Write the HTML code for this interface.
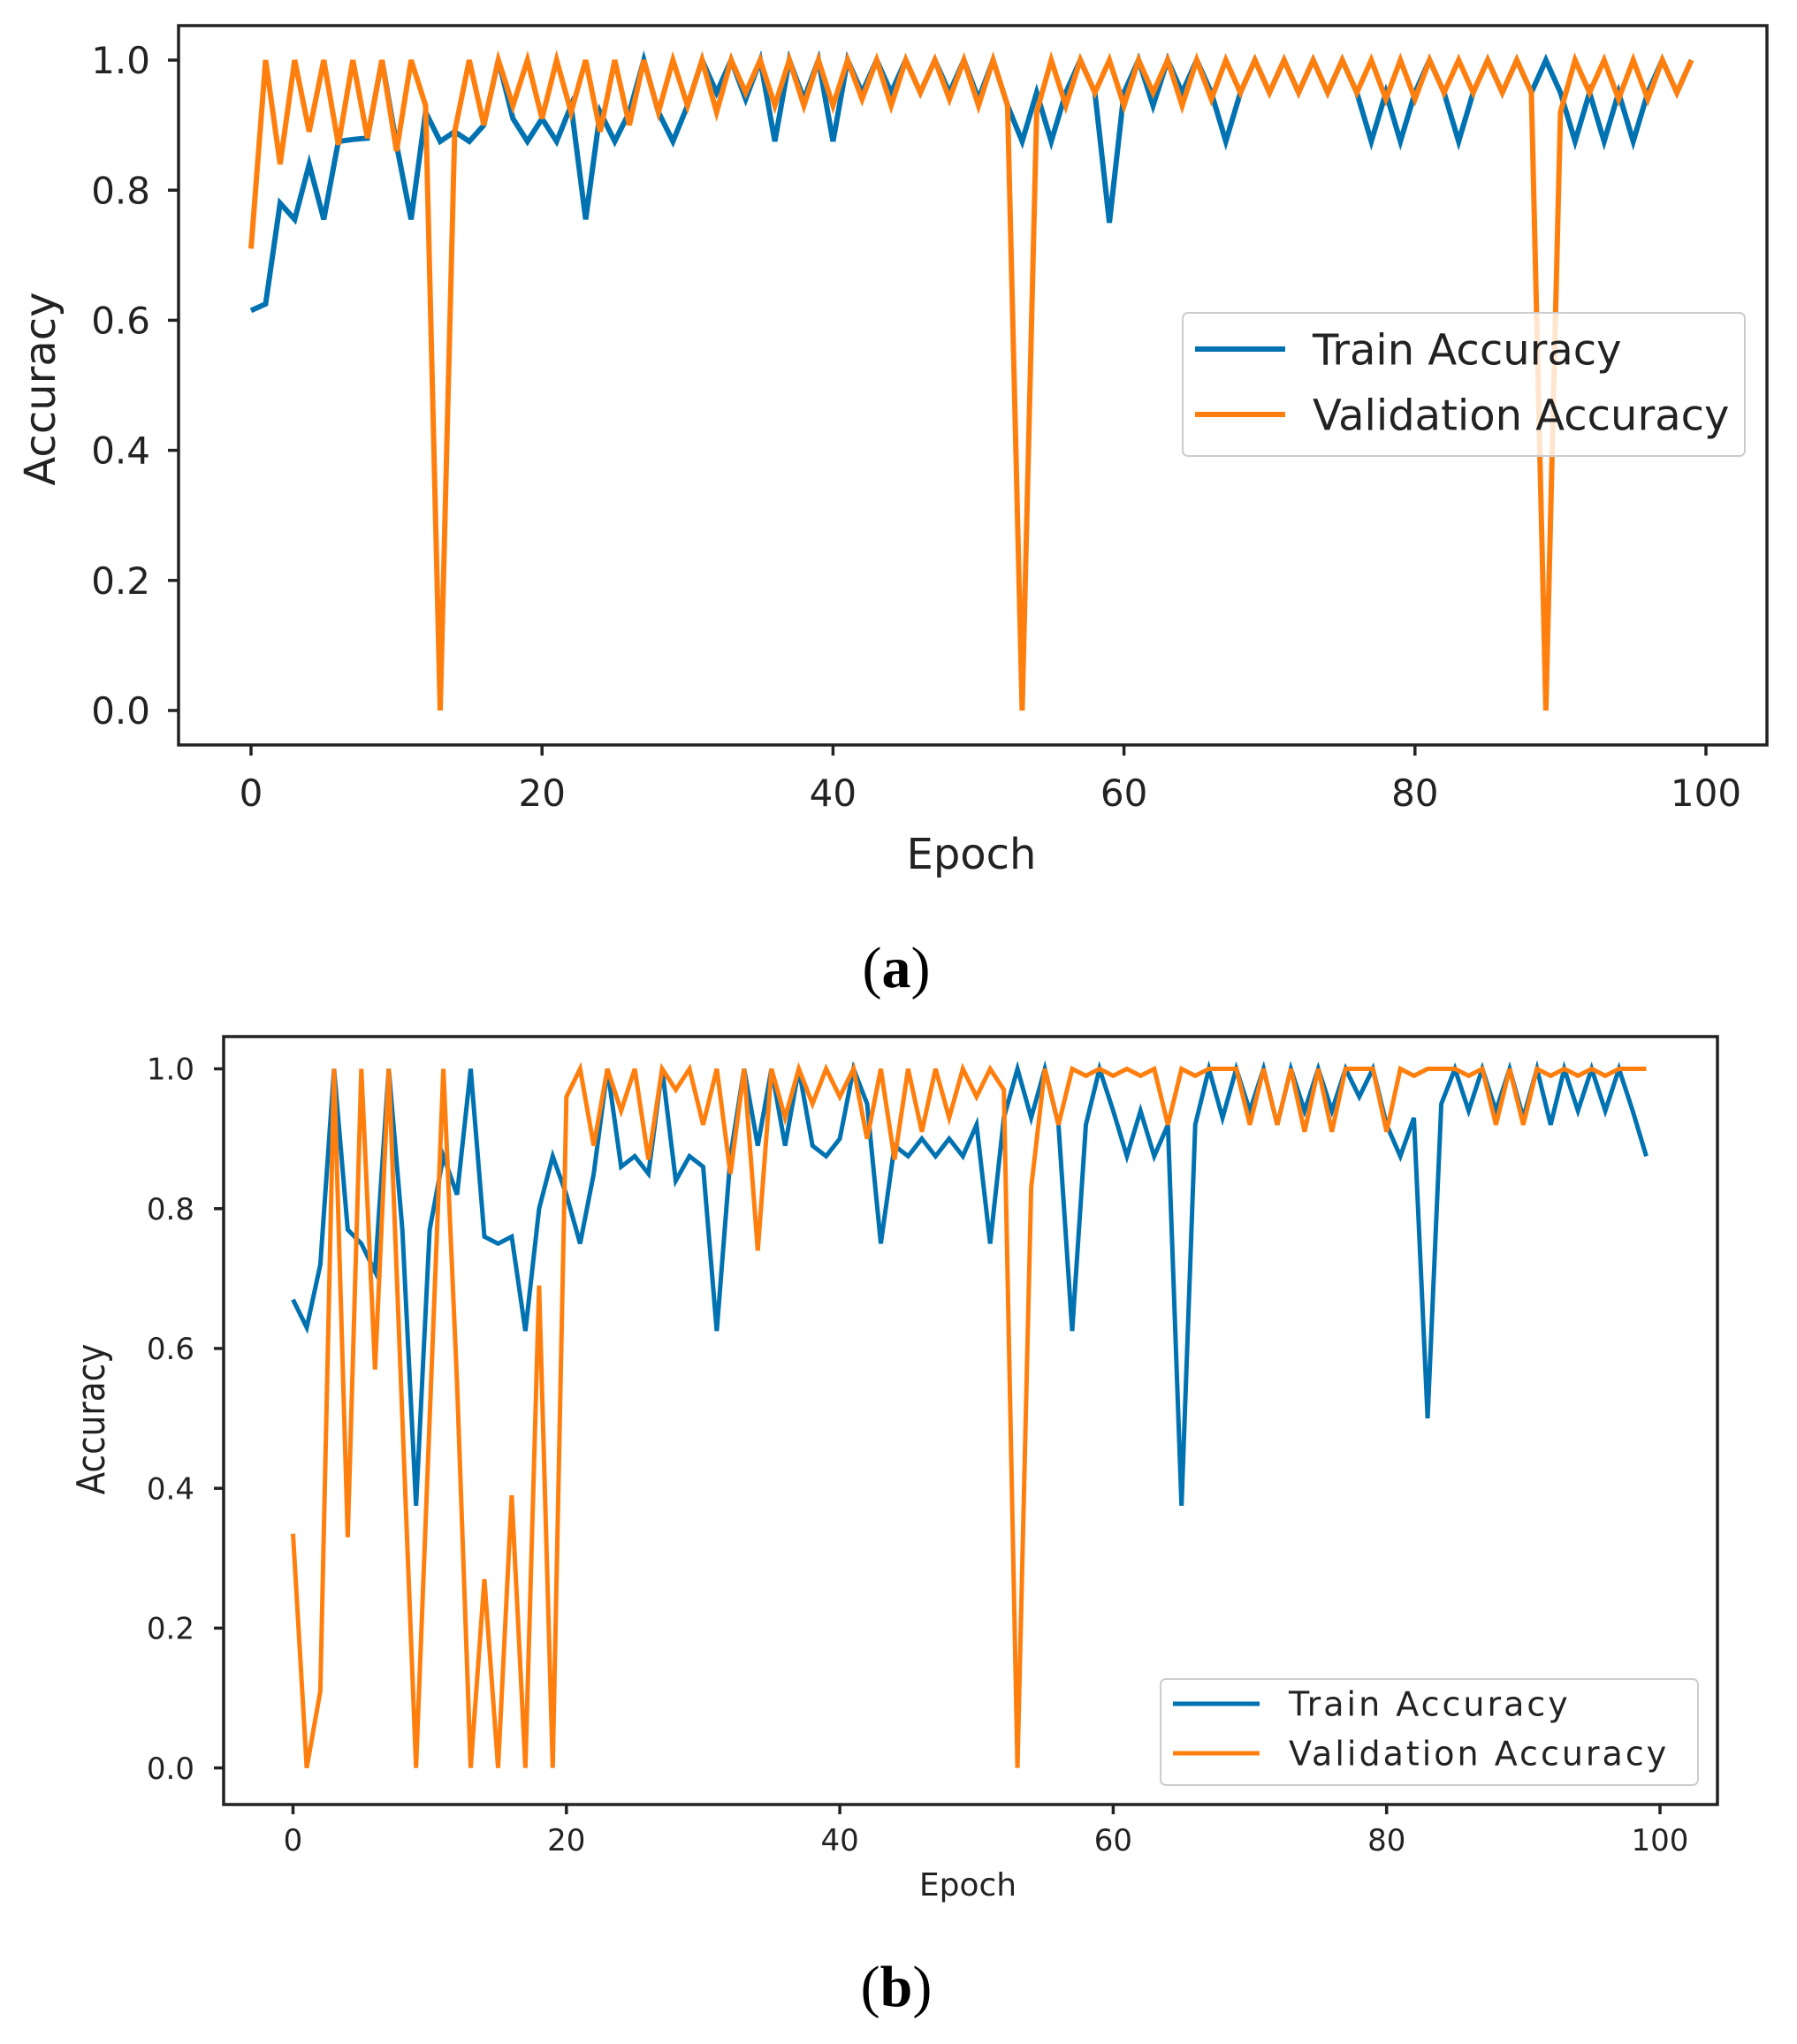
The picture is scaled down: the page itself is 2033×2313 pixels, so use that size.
<!DOCTYPE html>
<html><head><meta charset="utf-8"><style>
html,body{margin:0;padding:0;background:#fff;}
svg{display:block;}
</style></head><body>
<svg id="root" width="2033" height="2313" viewBox="0 0 2033 2313" xmlns="http://www.w3.org/2000/svg"></svg>
<script>
const epochs = Array.from({length:100},(_,i)=>i);
const trainA = [.615,.625,.78,.755,.84,.755,.875,.878,.88,1.0,.87,.755,.92,.875,.89,.875,.9,1.0,.91,.875,.91,.875,.93,.755,.92,.875,.92,1.0,.92,.875,.93,1.0,.95,1.0,.94,1.0,.875,1.0,.94,1.0,.875,1.0,.95,1.0,.95,1.0,.95,1.0,.95,1.0,.94,1.0,.93,.875,.95,.875,.95,1.0,.95,.75,.95,1.0,.93,1.0,.95,1.0,.95,.875,.95,1.0,.95,1.0,.95,1.0,.95,1.0,.95,.875,.95,.875,.95,1.0,.95,.875,.95,1.0,.95,1.0,.95,1.0,.95,.875,.95,.875,.95,.875,.95,1.0,.95,1.0];
const valA = [.71,1.0,.84,1.0,.89,1.0,.87,1.0,.88,1.0,.86,1.0,.93,0,.89,1.0,.9,1.0,.93,1.0,.91,1.0,.92,1.0,.89,1.0,.9,1.0,.92,1.0,.93,1.0,.92,1.0,.95,1.0,.93,1.0,.93,1.0,.93,1.0,.94,1.0,.93,1.0,.95,1.0,.94,1.0,.93,1.0,.93,0,.92,1.0,.93,1.0,.95,1.0,.93,1.0,.95,1.0,.93,1.0,.94,1.0,.95,1.0,.95,1.0,.95,1.0,.95,1.0,.95,1.0,.94,1.0,.94,1.0,.95,1.0,.95,1.0,.95,1.0,.95,0,.92,1.0,.95,1.0,.94,1.0,.94,1.0,.95,1.0];
const trainB = [.67,.63,.72,1.0,.77,.75,.71,1.0,.77,.375,.77,.875,.82,1.0,.76,.75,.76,.625,.8,.875,.82,.75,.85,1.0,.86,.875,.85,1.0,.84,.875,.86,.625,.875,1.0,.89,1.0,.89,1.0,.89,.875,.9,1.0,.95,.75,.89,.875,.9,.875,.9,.875,.92,.75,.93,1.0,.93,1.0,.92,.625,.92,1.0,.94,.875,.94,.875,.92,.375,.92,1.0,.93,1.0,.94,1.0,.92,1.0,.94,1.0,.94,1.0,.96,1.0,.92,.875,.93,.5,.95,1.0,.94,1.0,.94,1.0,.93,1.0,.92,1.0,.94,1.0,.94,1.0,.94,.875];
const valB = [.335,0,.11,1.0,.33,1.0,.57,1.0,.5,0,.5,1.0,.55,0,.27,0,.39,0,.69,0,.96,1.0,.89,1.0,.94,1.0,.87,1.0,.97,1.0,.92,1.0,.85,1.0,.74,1.0,.93,1.0,.95,1.0,.96,1.0,.9,1.0,.87,1.0,.91,1.0,.93,1.0,.96,1.0,.97,0,.83,1.0,.92,1.0,.99,1.0,.99,1.0,.99,1.0,.92,1.0,.99,1.0,1.0,1.0,.92,1.0,.92,1.0,.91,1.0,.91,1.0,1.0,1.0,.91,1.0,.99,1.0,1.0,1.0,.99,1.0,.92,1.0,.92,1.0,.99,1.0,.99,1.0,.99,1.0,1.0,1.0];
const xTicks = [0,20,40,60,80,100];
const yTicks = [0,0.2,0.4,0.6,0.8,1.0];
const seriesNames = ["Train Accuracy","Validation Accuracy"];

const NS="http://www.w3.org/2000/svg";
const root=document.getElementById('root');
function mk(tag,attrs,parent){const e=document.createElementNS(NS,tag);for(const k in attrs)e.setAttribute(k,attrs[k]);(parent||root).appendChild(e);return e;}

function chart(cfg,tr,va,id){
  const g=mk('g',{});
  
  
  const sx=e=>cfg.x0+(cfg.x100-cfg.x0)*e/100;
  const sy=v=>cfg.y0+(cfg.y1-cfg.y0)*v;
  const FF='"DejaVu Sans","Liberation Sans",sans-serif';
  xTicks.forEach(t=>{
    const l=mk('line',{x1:sx(t),x2:sx(t),y1:cfg.bb,y2:cfg.bb+cfg.tl,stroke:'#222','stroke-width':cfg.aw},g);
    
    
    const tx=mk('text',{x:sx(t),y:cfg.xly,'text-anchor':'middle','font-size':cfg.fs,'font-family':FF,fill:'#222'},g);
    tx.textContent=String(t);
    
    
  });
  yTicks.forEach(t=>{
    const l=mk('line',{x1:cfg.bl-cfg.tl,x2:cfg.bl,y1:sy(t),y2:sy(t),stroke:'#222','stroke-width':cfg.aw},g);
    
    
    const tx=mk('text',{x:cfg.ylx,y:sy(t)+cfg.fs*0.36,'text-anchor':'end','font-size':cfg.fs,'font-family':FF,fill:'#222'},g);
    tx.textContent=t.toFixed(1);
    
    
  });
  const cols=['#0072B2','#FF7F0E'];
  [tr,va].forEach((arr,si)=>{
    const d=arr.map((v,i)=>(i?'L':'M')+sx(epochs[i]).toFixed(1)+' '+sy(v).toFixed(1)).join(' ');
    const p=mk('path',{d:d,fill:'none',stroke:cols[si],'stroke-width':cfg.lw,'stroke-linejoin':'miter','stroke-miterlimit':4},g);
    
    
  });
  const box=mk('rect',{x:cfg.bl,y:cfg.bt,width:cfg.br-cfg.bl,height:cfg.bb-cfg.bt,fill:'none',stroke:'#222','stroke-width':cfg.aw},g);
  
  
  const xl=mk('text',{x:cfg.xtx,y:cfg.xty,'text-anchor':'middle','font-size':cfg.lfs,'font-family':FF,fill:'#222'},g);
  xl.textContent='Epoch';
  
  
  const yl=mk('text',{x:0,y:0,transform:`translate(${cfg.ytx},${cfg.yty}) rotate(-90) scale(${cfg.ysc},1)`,'text-anchor':'middle','font-size':cfg.ylfs,'font-family':FF,fill:'#222'},g);
  yl.textContent='Accuracy';
  
  
  const L=cfg.leg;
  const lg=mk('g',{},g);
  
  
  mk('rect',{x:L.x,y:L.y,width:L.w,height:L.h,rx:6,fill:'#fff','fill-opacity':0.8,stroke:'#ccc','stroke-width':2},lg);
  seriesNames.forEach((n,i)=>{
    const ey=L.ey[i];
    const ln=mk('line',{x1:L.lx1,x2:L.lx2,y1:ey,y2:ey,stroke:cols[i],'stroke-width':cfg.lw},lg);
    
    
    const t=mk('text',{x:L.tx,y:ey+L.fs*0.36,'font-size':L.fs,'font-family':FF,fill:'#222','letter-spacing':L.ls},lg);
    t.textContent=n;
    
    
  });
}

chart({x0:284,x100:1930,y0:804,y1:68,bl:202,br:1999,bt:29,bb:843,tl:12,aw:3.5,lw:6,fs:42,lfs:48,ylfs:48,
  xly:912,ylx:170,xtx:1099,xty:983,ytx:62,yty:440,ysc:1,
  leg:{x:1338,y:354,w:636,h:162,lx1:1352,lx2:1454,tx:1485,ey:[395,469],fs:48,ls:0}},trainA,valA,'chart-a');

chart({x0:331.5,x100:1878,y0:2000.6,y1:1209.5,bl:253,br:1943,bt:1173,bb:2042,tl:11,aw:3.5,lw:5,fs:34,lfs:36,ylfs:44,
  xly:2094,ylx:220,xtx:1095,xty:2145,ytx:118,yty:1606,ysc:0.85,
  leg:{x:1313,y:1900,w:608,h:120,lx1:1327,lx2:1425,tx:1458,ey:[1928,1984],fs:38,ls:3}},trainB,valB,'chart-b');

const FS='"Liberation Serif",serif';
const ca=mk('text',{x:1014,y:1117,'text-anchor':'middle','font-size':66,'font-family':FS,fill:'#000'});
ca.innerHTML='(<tspan font-weight="bold">a</tspan>)';


const cb=mk('text',{x:1014,y:2270,'text-anchor':'middle','font-size':66,'font-family':FS,fill:'#000'});
cb.innerHTML='(<tspan font-weight="bold">b</tspan>)';


</script>
</body></html>
